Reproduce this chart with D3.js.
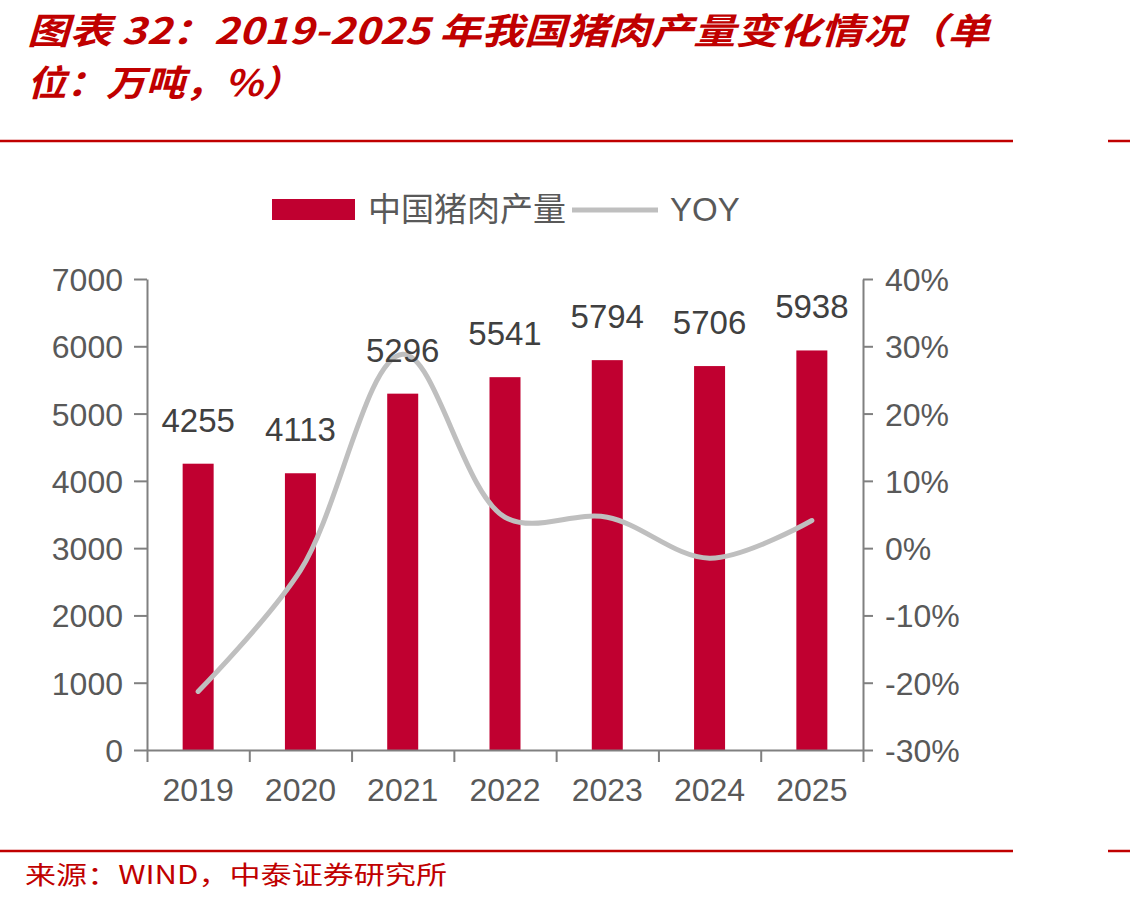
<!DOCTYPE html>
<html>
<head>
<meta charset="utf-8">
<script src="https://cdn.jsdelivr.net/npm/d3@7"></script>
<style>
  body { margin: 0; background: #fff; }
  svg { display: block; }
</style>
</head>
<body>
<div id="chart"></div>
<script>
const years = ["2019", "2020", "2021", "2022", "2023", "2024", "2025"]
const output = [4255, 4113, 5296, 5541, 5794, 5706, 5938]   // 万吨
const yoy = [-21.3, -3.3, 28.8, 4.6, 4.6, -1.5, 4.1]         // %
const left_ticks = [0, 1000, 2000, 3000, 4000, 5000, 6000, 7000]
const right_ticks = [-30, -20, -10, 0, 10, 20, 30, 40]

const width = 1130, height = 904
const red = "#C00000"
const bar_color = "#C00030"
const axis_color = "#808080"
const label_color = "#595959"
const num_font = "'Liberation Sans', Arial, sans-serif"
const cjk_font = "'Noto Sans CJK SC', sans-serif"

const svg = d3.select("#chart")
  .append("svg")
  .attr("width", width)
  .attr("height", height)

// title
const title = svg.append("g")
  .attr("fill", red)
  .style("font-family", cjk_font)
  .style("font-weight", "700")
  .style("font-style", "italic")
  .style("font-size", "36px")
title.append("text")
  .attr("x", 27).attr("y", 44)
  .attr("textLength", 963).attr("lengthAdjust", "spacingAndGlyphs")
  .text("图表 32：2019-2025 年我国猪肉产量变化情况（单")
title.append("text")
  .attr("x", 27).attr("y", 96)
  .attr("textLength", 275).attr("lengthAdjust", "spacingAndGlyphs")
  .text("位：万吨，%）")

// red rules
for (const y of [141, 851]) {
  svg.append("line").attr("x1", 0).attr("x2", 1013).attr("y1", y).attr("y2", y)
    .attr("stroke", red).attr("stroke-width", 2.5)
  svg.append("line").attr("x1", 1108).attr("x2", 1130).attr("y1", y).attr("y2", y)
    .attr("stroke", red).attr("stroke-width", 2.5)
}

// source
svg.append("text")
  .attr("x", 25).attr("y", 884)
  .attr("fill", red)
  .style("font-family", cjk_font)
  .style("font-size", "25px")
  .attr("textLength", 422).attr("lengthAdjust", "spacingAndGlyphs")
  .text("来源：WIND，中泰证券研究所")

// plot area
const x0 = 147, x1 = 863, y0 = 750, y1 = 279

const x = d3.scaleBand().domain(years).range([x0, x1])
const xIdx = d3.scaleLinear().domain([0, years.length]).range([x0, x1])
const yL = d3.scaleLinear().domain([0, 7000]).range([y0, y1])
const yR = d3.scaleLinear().domain([-30, 40]).range([y0, y1])
const bar_w = 31

// bars
svg.append("g")
  .selectAll("rect")
  .data(output)
  .join("rect")
  .attr("x", (d, i) => x(years[i]) + x.bandwidth() / 2 - bar_w / 2)
  .attr("width", bar_w)
  .attr("y", d => yL(d))
  .attr("height", d => yL(0) - yL(d))
  .attr("fill", bar_color)

// yoy line
const line = d3.line()
  .x((d, i) => x(years[i]) + x.bandwidth() / 2)
  .y(d => yR(d))
  .curve(d3.curveCatmullRom.alpha(0.5))
svg.append("path")
  .datum(yoy)
  .attr("d", line)
  .attr("fill", "none")
  .attr("stroke", "#BFBFBF")
  .attr("stroke-width", 5)
  .attr("stroke-linecap", "round")

// data labels
svg.append("g")
  .selectAll("text")
  .data(output)
  .join("text")
  .attr("x", (d, i) => x(years[i]) + x.bandwidth() / 2)
  .attr("y", d => yL(d) - 32)
  .attr("text-anchor", "middle")
  .attr("fill", "#404040")
  .style("font-family", num_font)
  .style("font-size", "33px")
  .text(d => d)

const style_axis = (g) => {
  g.select(".domain").attr("stroke", axis_color).attr("stroke-width", 2)
  g.selectAll(".tick line").attr("stroke", axis_color).attr("stroke-width", 2)
  g.selectAll(".tick text")
    .attr("fill", label_color)
    .style("font-family", num_font)
    .style("font-size", "32px")
}

// left axis
svg.append("g")
  .attr("transform", `translate(${x0},0)`)
  .call(d3.axisLeft(yL).tickValues(left_ticks).tickSize(13).tickSizeOuter(0).tickPadding(11)
    .tickFormat(d3.format("d")))
  .call(style_axis)
  .call(g => g.selectAll(".tick text").attr("dy", "0.36em"))

// right axis
svg.append("g")
  .attr("transform", `translate(${x1},0)`)
  .call(d3.axisRight(yR).tickValues(right_ticks).tickSize(10).tickSizeOuter(0).tickPadding(12)
    .tickFormat(d => d + "%"))
  .call(style_axis)
  .call(g => g.selectAll(".tick text").attr("dy", "0.36em"))

// bottom axis: labels in band centres, ticks on band edges
svg.append("g")
  .attr("transform", `translate(0,${y0})`)
  .call(d3.axisBottom(xIdx).tickValues(d3.range(years.length + 1)).tickSize(12).tickSizeOuter(0).tickFormat(""))
  .call(style_axis)
svg.append("g")
  .attr("transform", `translate(0,${y0})`)
  .call(d3.axisBottom(x).tickSize(0).tickPadding(28))
  .call(style_axis)
  .call(g => g.select(".domain").remove())

// legend
const legend = svg.append("g")
legend.append("rect")
  .attr("x", 272).attr("y", 199).attr("width", 83).attr("height", 21)
  .attr("fill", bar_color)
legend.append("text")
  .attr("x", 368).attr("y", 221)
  .attr("fill", label_color)
  .style("font-family", cjk_font)
  .style("font-size", "33px")
  .text("中国猪肉产量")
legend.append("line")
  .attr("x1", 572).attr("x2", 658).attr("y1", 210).attr("y2", 210)
  .attr("stroke", "#BFBFBF").attr("stroke-width", 5)
legend.append("text")
  .attr("x", 670).attr("y", 221)
  .attr("fill", label_color)
  .style("font-family", num_font)
  .style("font-size", "33px")
  .text("YOY")
</script>
</body>
</html>
